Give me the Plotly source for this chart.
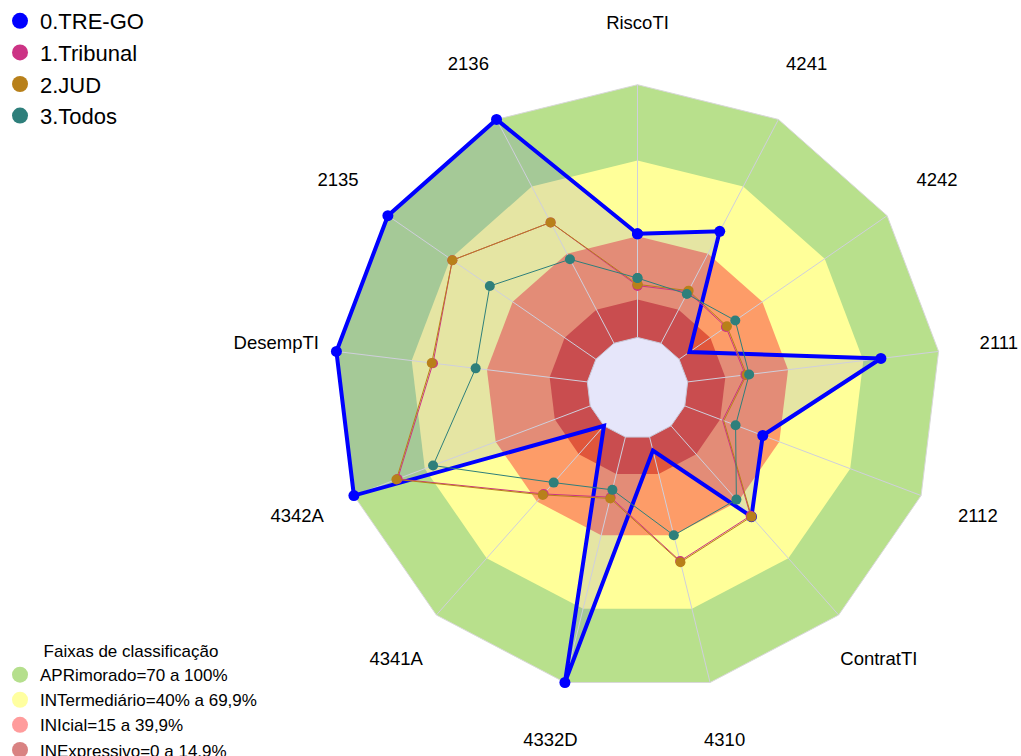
import plotly.graph_objects as go

categories = ["RiscoTI", "4241", "4242", "2111", "2112", "ContratTI", "4310",
              "4332D", "4341A", "4342A", "DesempTI", "2135", "2136"]

tre_go   = [41, 50, 5, 77, 33, 48, 5.5, 100, 0, 100, 100, 100, 100]
tribunal = [20.5, 23, 22.5, 23, 16, 47.5, 50.5, 24.5, 36, 81.5, 61.5, 69, 54]
jud      = [21, 23.5, 23, 23.5, 16.5, 48, 51, 25, 36.5, 82, 62, 69, 54]
todos    = [23.5, 22, 27, 24.5, 21.5, 39, 40, 21.5, 30, 66.5, 44.5, 51, 37.5]

series_names = ["0.TRE-GO", "1.Tribunal", "2.JUD", "3.Todos"]
series_colors = ["#0000ff", "#cc3385", "#b8801a", "#2e7f7b"]

band_names = ["APRimorado=70 a 100%", "INTermediário=40% a 69,9%",
              "INIcial=15 a 39,9%", "INExpressivo=0 a 14,9%"]
band_tops = [100, 70, 40, 15]
band_colors = ["#b8e08c", "#ffff99", "#fd9c68", "#e0563b"]
band_legend_colors = ["#b5df8d", "#ffffa0", "#ff9c9c", "#d98282"]
hole_color = "#e6e6fa"
label_radius = 124

FONT = "Liberation Sans, Arial, sans-serif"

fig = go.Figure()

# legend entries for data series (legend 1)
for name, col in zip(series_names, series_colors):
    fig.add_trace(go.Scatterpolar(
        r=[None], theta=[None], mode="markers", name=name,
        marker=dict(color=col, size=16), legend="legend", hoverinfo="skip"))

# legend entries for bands (legend2)
for name, col in zip(band_names, band_legend_colors):
    fig.add_trace(go.Scatterpolar(
        r=[None], theta=[None], mode="markers", name=name,
        marker=dict(color=col, size=16), legend="legend2", hoverinfo="skip"))

# band polygons (drawn largest first)
for top, col in zip(band_tops, band_colors):
    fig.add_trace(go.Scatterpolar(
        r=[top] * len(categories), theta=categories, mode="lines",
        fill="toself", fillcolor=col, line=dict(width=0, color=col),
        showlegend=False, hoverinfo="skip"))

# TRE-GO translucent fill
fig.add_trace(go.Scatterpolar(
    r=tre_go, theta=categories, mode="lines", fill="toself",
    fillcolor="rgba(0,0,255,0.1)", line=dict(width=0, color="rgba(0,0,0,0)"),
    showlegend=False, hoverinfo="skip"))

# central lavender area
fig.add_trace(go.Scatterpolar(
    r=[0] * len(categories) + [0], theta=categories + [categories[0]],
    mode="lines", fill="toself", fillcolor=hole_color,
    line=dict(width=1, color="#c8c8d8"), showlegend=False, hoverinfo="skip"))

# spokes
sr, st = [], []
for c in categories:
    sr += [0, band_tops[0], None]
    st += [c, c, None]
fig.add_trace(go.Scatterpolar(
    r=sr, theta=st, mode="lines", line=dict(width=1, color="#cfcfdc"),
    connectgaps=False, showlegend=False, hoverinfo="skip"))

# outer outline
fig.add_trace(go.Scatterpolar(
    r=[band_tops[0]] * (len(categories) + 1), theta=categories + [categories[0]],
    mode="lines", line=dict(width=1, color="#d8d8d8"),
    showlegend=False, hoverinfo="skip"))

# data series lines and markers
all_series = [tre_go, tribunal, jud, todos]
for i, (name, vals, col) in enumerate(zip(series_names, all_series, series_colors)):
    fig.add_trace(go.Scatterpolar(
        r=vals + [vals[0]], theta=categories + [categories[0]],
        mode="lines+markers", name=name,
        line=dict(color=col, width=4 if i == 0 else 1),
        marker=dict(color=col, size=11 if i == 0 else 10),
        showlegend=False))

# category labels
fig.add_trace(go.Scatterpolar(
    r=[label_radius] * len(categories), theta=categories, mode="text",
    text=categories, textposition="middle center",
    textfont=dict(family=FONT, size=18.5, color="#000000"),
    cliponaxis=False, showlegend=False, hoverinfo="skip"))

fig.update_layout(
    width=1021, height=756,
    paper_bgcolor="white",
    margin=dict(l=271, r=17, t=21, b=1, autoexpand=False),
    font=dict(family=FONT, color="#000000"),
    polar=dict(
        domain=dict(x=[0, 1], y=[0, 1]),
        bgcolor="rgba(0,0,0,0)",
        gridshape="linear",
        radialaxis=dict(range=[-20, 125], showgrid=False, showline=False,
                        showticklabels=False, ticks=""),
        angularaxis=dict(type="category", categoryorder="array",
                         categoryarray=categories, direction="clockwise",
                         rotation=90, showgrid=False, showline=False,
                         showticklabels=False, ticks=""),
    ),
    legend=dict(x=-0.3697, y=1.0286, xanchor="left", yanchor="top",
                font=dict(size=22, family=FONT), bgcolor="rgba(0,0,0,0)",
                tracegroupgap=0),
    legend2=dict(x=-0.3697, y=0.1635, xanchor="left", yanchor="top",
                 font=dict(size=17, family=FONT), bgcolor="rgba(0,0,0,0)",
                 title=dict(text="Faixas de classificação", side="top center",
                            font=dict(size=17, family=FONT))),
    showlegend=True,
)

fig.write_html("out.html", config={"displayModeBar": False},
               post_script="document.body.style.margin='0';document.body.style.overflow='hidden';")
